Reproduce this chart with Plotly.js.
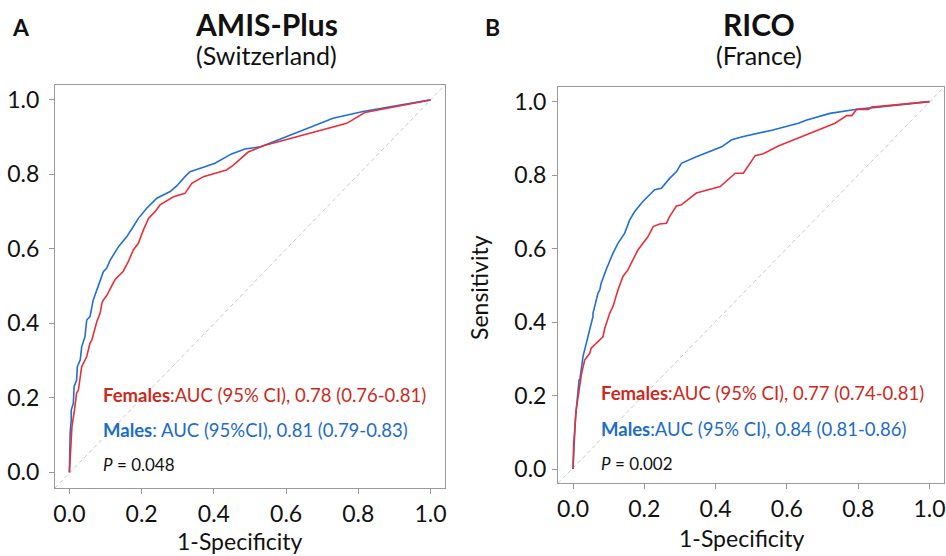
<!DOCTYPE html>
<html>
<head>
<meta charset="utf-8">
<script src="https://cdn.plot.ly/plotly-3.0.1.min.js"></script>
<style>html,body{margin:0;padding:0;background:#fff;}#chart{width:946px;height:556px;}</style>
</head>
<body>
<div id="chart"></div>
<script>
// ---- data ----
const tickVals = [0, 0.2, 0.4, 0.6, 0.8, 1.0];
const tickText = ['0.0', '0.2', '0.4', '0.6', '0.8', '1.0'];

// Panel A: AMIS-Plus (Switzerland)
const amisMalesX = [0,0.002,0.002,0.005,0.005,0.011,0.013,0.020,0.022,0.030,0.034,0.043,0.048,0.048,0.057,0.066,0.076,0.080,0.094,0.103,0.113,0.136,0.159,0.177,0.191,0.214,0.242,0.279,0.297,0.320,0.334,0.371,0.403,0.449,0.486,0.528,0.537,0.730,0.813,1];
const amisMalesY = [0,0.079,0.105,0.140,0.167,0.186,0.230,0.248,0.284,0.302,0.337,0.364,0.400,0.409,0.418,0.463,0.490,0.500,0.539,0.548,0.570,0.606,0.633,0.660,0.682,0.709,0.736,0.754,0.769,0.794,0.807,0.819,0.830,0.855,0.868,0.874,0.877,0.951,0.969,1];
const amisFemalesX = [0,0.002,0.007,0.007,0.014,0.020,0.025,0.034,0.039,0.048,0.057,0.062,0.076,0.085,0.090,0.094,0.103,0.126,0.149,0.163,0.177,0.191,0.205,0.219,0.237,0.251,0.288,0.320,0.339,0.371,0.435,0.454,0.495,0.537,0.768,0.818,1];
const amisFemalesY = [0,0.042,0.114,0.122,0.167,0.213,0.221,0.284,0.293,0.311,0.347,0.355,0.405,0.427,0.454,0.463,0.474,0.517,0.540,0.566,0.597,0.615,0.651,0.682,0.700,0.718,0.740,0.749,0.776,0.794,0.812,0.825,0.860,0.877,0.937,0.966,1];

// Panel B: RICO (France)
const ricoMalesX = [0,0.005,0.007,0.017,0.019,0.028,0.042,0.056,0.056,0.070,0.075,0.079,0.094,0.112,0.126,0.145,0.159,0.173,0.196,0.229,0.248,0.271,0.290,0.304,0.346,0.374,0.399,0.417,0.445,0.478,0.561,0.632,0.656,0.721,0.796,1];
const ricoMalesY = [0,0.133,0.142,0.242,0.242,0.306,0.360,0.415,0.424,0.478,0.487,0.506,0.545,0.587,0.614,0.642,0.678,0.701,0.728,0.760,0.764,0.791,0.809,0.832,0.850,0.860,0.870,0.877,0.896,0.905,0.923,0.941,0.950,0.968,0.979,1];
const ricoFemalesX = [0,0.002,0.009,0.019,0.024,0.033,0.047,0.051,0.065,0.075,0.084,0.089,0.094,0.103,0.112,0.120,0.126,0.140,0.154,0.168,0.182,0.210,0.225,0.243,0.262,0.271,0.290,0.304,0.346,0.413,0.455,0.478,0.511,0.534,0.576,0.735,0.749,0.768,0.782,0.796,0.829,0.838,1];
const ricoFemalesY = [0,0.070,0.161,0.224,0.260,0.297,0.315,0.329,0.342,0.351,0.360,0.383,0.397,0.424,0.442,0.470,0.487,0.524,0.542,0.569,0.596,0.632,0.660,0.667,0.669,0.687,0.716,0.719,0.751,0.769,0.805,0.805,0.853,0.858,0.879,0.941,0.950,0.962,0.962,0.979,0.979,0.985,1];

const panelLetters = ['A', 'B'];
const panelTitles = ['AMIS-Plus', 'RICO'];
const panelSubtitles = ['(Switzerland)', '(France)'];
const femaleLabels = ['AUC (95% CI), 0.78 (0.76-0.81)', 'AUC (95% CI), 0.77 (0.74-0.81)'];
const maleLabels = [' AUC (95%CI), 0.81 (0.79-0.83)', 'AUC (95% CI), 0.84 (0.81-0.86)'];
const pValues = ['0.048', '0.002'];

// ---- style ----
const FONT = 'Lato, "Open Sans", "DejaVu Sans", sans-serif';
const RED_LINE = '#e8303a';
const BLUE_LINE = '#1f70d6';
const RED_TEXT = '#cc2a1c';
const BLUE_TEXT = '#1c6ccc';
const FRAME = '#9a9a9a';

const traces = [
  {x: amisMalesX, y: amisMalesY, xaxis: 'x', yaxis: 'y', mode: 'lines', line: {color: BLUE_LINE, width: 1.6}, hoverinfo: 'skip'},
  {x: amisFemalesX, y: amisFemalesY, xaxis: 'x', yaxis: 'y', mode: 'lines', line: {color: RED_LINE, width: 1.6}, hoverinfo: 'skip'},
  {x: ricoMalesX, y: ricoMalesY, xaxis: 'x2', yaxis: 'y2', mode: 'lines', line: {color: BLUE_LINE, width: 1.6}, hoverinfo: 'skip'},
  {x: ricoFemalesX, y: ricoFemalesY, xaxis: 'x2', yaxis: 'y2', mode: 'lines', line: {color: RED_LINE, width: 1.6}, hoverinfo: 'skip'}
];

function axis(extra) {
  return Object.assign({
    tickvals: tickVals, ticktext: tickText,
    showgrid: false, zeroline: false,
    showline: true, mirror: true, linecolor: FRAME, linewidth: 1,
    ticks: 'outside', ticklen: 5, tickcolor: FRAME, tickwidth: 1,
    tickfont: {family: FONT, size: 23, color: '#111'}
  }, extra);
}

const layout = {
  width: 946, height: 556,
  margin: {l: 0, r: 0, t: 0, b: 0},
  paper_bgcolor: '#fff', plot_bgcolor: '#fff',
  showlegend: false,
  font: {family: FONT, color: '#111'},
  xaxis: axis({domain: [0.0581, 0.4704], range: [-0.04, 1.04], anchor: 'y', ticklabelstandoff: 0}),
  yaxis: axis({domain: [0.1223, 0.8471], range: [-0.042, 1.04], anchor: 'x', ticklabelstandoff: 5}),
  xaxis2: axis({domain: [0.5899, 0.9976], range: [-0.042, 1.04], anchor: 'y2', ticklabelstandoff: 0}),
  yaxis2: axis({domain: [0.1307, 0.843], range: [-0.039, 1.039], anchor: 'x2', ticklabelstandoff: 1}),
  shapes: [
    {type: 'line', xref: 'x domain', yref: 'y domain', x0: 0, y0: 0, x1: 1, y1: 1, line: {color: '#c8c8c8', width: 1, dash: '4px,3px'}, layer: 'below'},
    {type: 'line', xref: 'x2 domain', yref: 'y2 domain', x0: 0, y0: 0, x1: 1, y1: 1, line: {color: '#c8c8c8', width: 1, dash: '4px,3px'}, layer: 'below'}
  ],
  annotations: []
};

function px(xp) { return xp / 946; }
function py(yp) { return 1 - yp / 556; }
function ann(text, xp, yp, size, color, xanchor, extra) {
  layout.annotations.push(Object.assign({
    text: text, xref: 'paper', yref: 'paper', x: px(xp), y: py(yp),
    xanchor: xanchor || 'center', yanchor: 'middle', showarrow: false,
    font: {family: FONT, size: size, color: color || '#111'}
  }, extra || {}));
}

// panel letters & titles
ann('<b>' + panelLetters[0] + '</b>', 21, 27, 23);
ann('<b>' + panelLetters[1] + '</b>', 492, 27, 23);
ann('<b>' + panelTitles[0] + '</b>', 266, 24, 30);
ann('<b>' + panelTitles[1] + '</b>', 759, 24, 30);
ann(panelSubtitles[0], 266, 55, 25);
ann(panelSubtitles[1], 759, 55, 25);

// axis titles
ann('1-Specificity', 240, 541, 23);
ann('1-Specificity', 742, 538, 23);
ann('Sensitivity', 479, 287, 23, '#111', 'center', {textangle: -90});

// AUC texts
const textX = [101, 599];
const femY = [395, 393];
const maleY = [430, 429];
const pY = [464, 463];
for (let i = 0; i < 2; i++) {
  ann('<b>Females</b>:' + femaleLabels[i], textX[i], femY[i], 18.5, RED_TEXT, 'left');
  ann('<b>Males</b>:' + maleLabels[i], textX[i], maleY[i], 18.5, BLUE_TEXT, 'left');
  ann('<i>P</i> = ' + pValues[i], textX[i], pY[i], 17, '#111', 'left');
}

Plotly.newPlot('chart', traces, layout, {staticPlot: true, displayModeBar: false});
</script>
</body>
</html>
